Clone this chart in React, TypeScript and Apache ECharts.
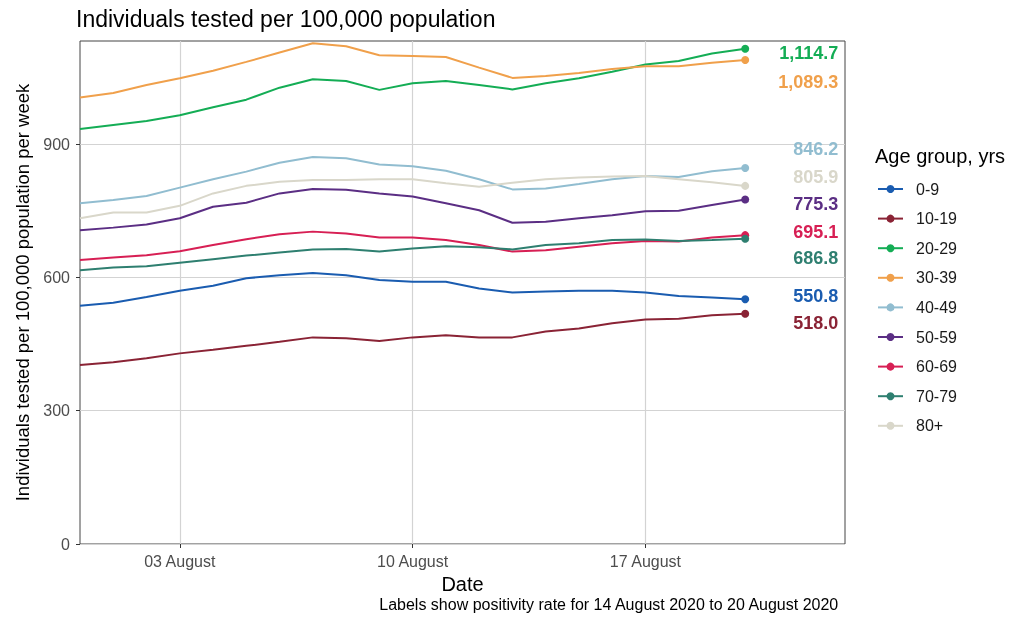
import React, { useEffect, useRef } from "react";
import * as echarts from "echarts";

const dates = [
  "2020-07-31", "2020-08-01", "2020-08-02", "2020-08-03", "2020-08-04", "2020-08-05", "2020-08-06",
  "2020-08-07", "2020-08-08", "2020-08-09", "2020-08-10", "2020-08-11", "2020-08-12", "2020-08-13",
  "2020-08-14", "2020-08-15", "2020-08-16", "2020-08-17", "2020-08-18", "2020-08-19", "2020-08-20",
];
const axisEndDate = "2020-08-23";

const ageGroups = ["0-9", "10-19", "20-29", "30-39", "40-49", "50-59", "60-69", "70-79", "80+"];
const colors = ["#1a5cb0", "#8a2335", "#14ad55", "#f0a04b", "#91bdd0", "#5b2e84", "#d71f54", "#2e7f70", "#d9d7ca"];

const age0to9 = [536, 543, 556, 570, 581, 598, 605, 610, 605, 594, 590, 590, 575, 566, 568, 570, 570, 566, 558, 555, 550.8];
const age10to19 = [403, 409, 418, 429, 437, 446, 455, 465, 463, 457, 465, 470, 465, 465, 478, 485, 497, 505, 507, 515, 518.0];
const age20to29 = [934, 943, 952, 965, 983, 1000, 1027, 1046, 1042, 1022, 1037, 1042, 1033, 1023, 1037, 1048, 1063, 1079, 1087, 1104, 1114.7];
const age30to39 = [1005, 1015, 1033, 1048, 1065, 1085, 1106, 1127, 1120, 1100, 1098, 1096, 1072, 1049, 1053, 1060, 1069, 1075, 1075, 1083, 1089.3];
const age40to49 = [767, 774, 783, 802, 821, 838, 858, 871, 868, 854, 850, 840, 821, 798, 800, 810, 821, 828, 826, 839, 846.2];
const age50to59 = [706, 712, 719, 733, 759, 768, 789, 799, 797, 789, 782, 767, 751, 723, 725, 733, 740, 749, 750, 763, 775.3];
const age60to69 = [639, 645, 650, 659, 673, 686, 697, 703, 699, 690, 690, 684, 673, 658, 661, 669, 677, 682, 681, 690, 695.1];
const age70to79 = [616, 622, 625, 633, 641, 649, 656, 663, 664, 658, 665, 670, 668, 663, 673, 677, 684, 685, 682, 684, 686.8];
const age80plus = [733, 746, 746, 761, 789, 806, 815, 819, 819, 821, 821, 812, 804, 813, 821, 825, 827, 828, 821, 814, 805.9];
const seriesValues = [age0to9, age10to19, age20to29, age30to39, age40to49, age50to59, age60to69, age70to79, age80plus];

// end labels (value shown) and the y-value where each repelled label sits
const labelValues = [550.8, 518.0, 1114.7, 1089.3, 846.2, 775.3, 695.1, 686.8, 805.9];
const labelAnchors = [559, 497, 1105, 1040, 889, 765, 702, 643, 826];

const xTickDates = ["2020-08-03", "2020-08-10", "2020-08-17"];
const yTicks = [0, 300, 600, 900];
const yMax = 1132;

const monthNames = ["January", "February", "March", "April", "May", "June", "July", "August", "September", "October", "November", "December"];
const DAY = 86400000;
const t0 = Date.parse(dates[0] + "T00:00:00Z");
const dayOf = (d: string) => (Date.parse(d + "T00:00:00Z") - t0) / DAY;
const fmtDate = (v: number) => {
  const dt = new Date(t0 + Math.round(v) * DAY);
  const dd = String(dt.getUTCDate()).padStart(2, "0");
  return dd + " " + monthNames[dt.getUTCMonth()];
};
const fmtNum = (v: number) => v.toLocaleString("en-US", { minimumFractionDigits: 1, maximumFractionDigits: 1 });

const FONT = "'Liberation Sans', Arial, Helvetica, sans-serif";

export default function App() {
  const ref = useRef<HTMLDivElement>(null);
  useEffect(() => {
    if (!ref.current) return;
    const chart = echarts.init(ref.current, null, { renderer: "svg" });
    const days = dates.map(dayOf);
    const last = days.length - 1;

    const lineSeries = ageGroups.map((g, i) => ({
      name: g,
      type: "line",
      data: days.map((d, j) => [d, seriesValues[i][j]]),
      color: colors[i],
      lineStyle: { width: 2, color: colors[i] },
      itemStyle: { color: colors[i], opacity: 1 },
      symbol: "circle",
      showSymbol: true,
      symbolSize: (_v: any, p: any) => (p.dataIndex === last ? 8 : 0),
      emphasis: { disabled: true },
      silent: true,
      z: 2,
    }));

    const labelSeries = ageGroups.map((g, i) => ({
      name: "label " + g,
      type: "scatter",
      data: [[days[last], labelAnchors[i], labelValues[i]]],
      symbolSize: 0,
      itemStyle: { color: "rgba(0,0,0,0)", opacity: 1 },
      silent: true,
      z: 3,
      label: {
        show: true,
        position: [93, 0],
        align: "right",
        verticalAlign: "middle",
        formatter: (p: any) => fmtNum(p.value[2]),
        color: colors[i],
        opacity: 1,
        fontSize: 18,
        fontWeight: "bold",
        fontFamily: FONT,
      },
    }));

    chart.setOption({
      animation: false,
      textStyle: { fontFamily: FONT },
      title: [
        {
          text: "Individuals tested per 100,000 population",
          left: 76,
          top: 7,
          padding: 0,
          textStyle: { fontSize: 23, fontWeight: "normal", color: "#000", fontFamily: FONT },
        },
        {
          text: "Age group, yrs",
          left: 875,
          top: 146,
          padding: 0,
          textStyle: { fontSize: 20, fontWeight: "normal", color: "#000", fontFamily: FONT },
        },
        {
          text: "Labels show positivity rate for 14 August 2020 to 20 August 2020",
          right: 175,
          top: 596,
          padding: 0,
          textStyle: { fontSize: 16, fontWeight: "normal", color: "#000", fontFamily: FONT },
        },
      ],
      legend: {
        data: ageGroups,
        orient: "vertical",
        left: 877,
        top: 181,
        padding: 0,
        itemWidth: 25,
        itemHeight: 10,
        itemGap: 13.6,
        selectedMode: false,
        textStyle: { fontSize: 16, color: "#1a1a1a", fontFamily: FONT, padding: [0, 0, 0, 8], lineHeight: 16 },
      },
      grid: {
        left: 80,
        right: 170,
        top: 41,
        bottom: 79,
        show: true,
        borderColor: "#444",
        borderWidth: 1,
        backgroundColor: "transparent",
        containLabel: false,
      },
      xAxis: {
        type: "value",
        min: 0,
        max: dayOf(axisEndDate),
        name: "Date",
        nameLocation: "middle",
        nameGap: 23,
        nameTextStyle: { fontSize: 20, color: "#000", fontFamily: FONT },
        axisLine: { show: false },
        axisTick: { show: true, length: 4, customValues: xTickDates.map(dayOf), lineStyle: { color: "#333" } },
        axisLabel: {
          customValues: xTickDates.map(dayOf),
          formatter: (v: number) => fmtDate(v),
          margin: 9,
          fontSize: 16,
          color: "#4d4d4d",
          fontFamily: FONT,
        },
        splitLine: { show: true, lineStyle: { color: "#d3d3d3", width: 1.2 } },
      },
      yAxis: {
        type: "value",
        min: 0,
        max: yMax,
        interval: 300,
        name: "Individuals tested per 100,000 population per week",
        nameLocation: "middle",
        nameGap: 46,
        nameTextStyle: { fontSize: 18.5, color: "#000", fontFamily: FONT },
        axisLine: { show: false },
        axisTick: { show: true, length: 4, customValues: yTicks, lineStyle: { color: "#333" } },
        axisLabel: {
          customValues: yTicks,
          margin: 10,
          fontSize: 16,
          color: "#4d4d4d",
          fontFamily: FONT,
        },
        splitLine: { show: true, lineStyle: { color: "#d3d3d3", width: 1.2 } },
      },
      series: [...lineSeries, ...labelSeries],
    });
    return () => chart.dispose();
  }, []);
  return <div ref={ref} style={{ position: "fixed", left: 0, top: 0, width: 1015, height: 623 }} />;
}
